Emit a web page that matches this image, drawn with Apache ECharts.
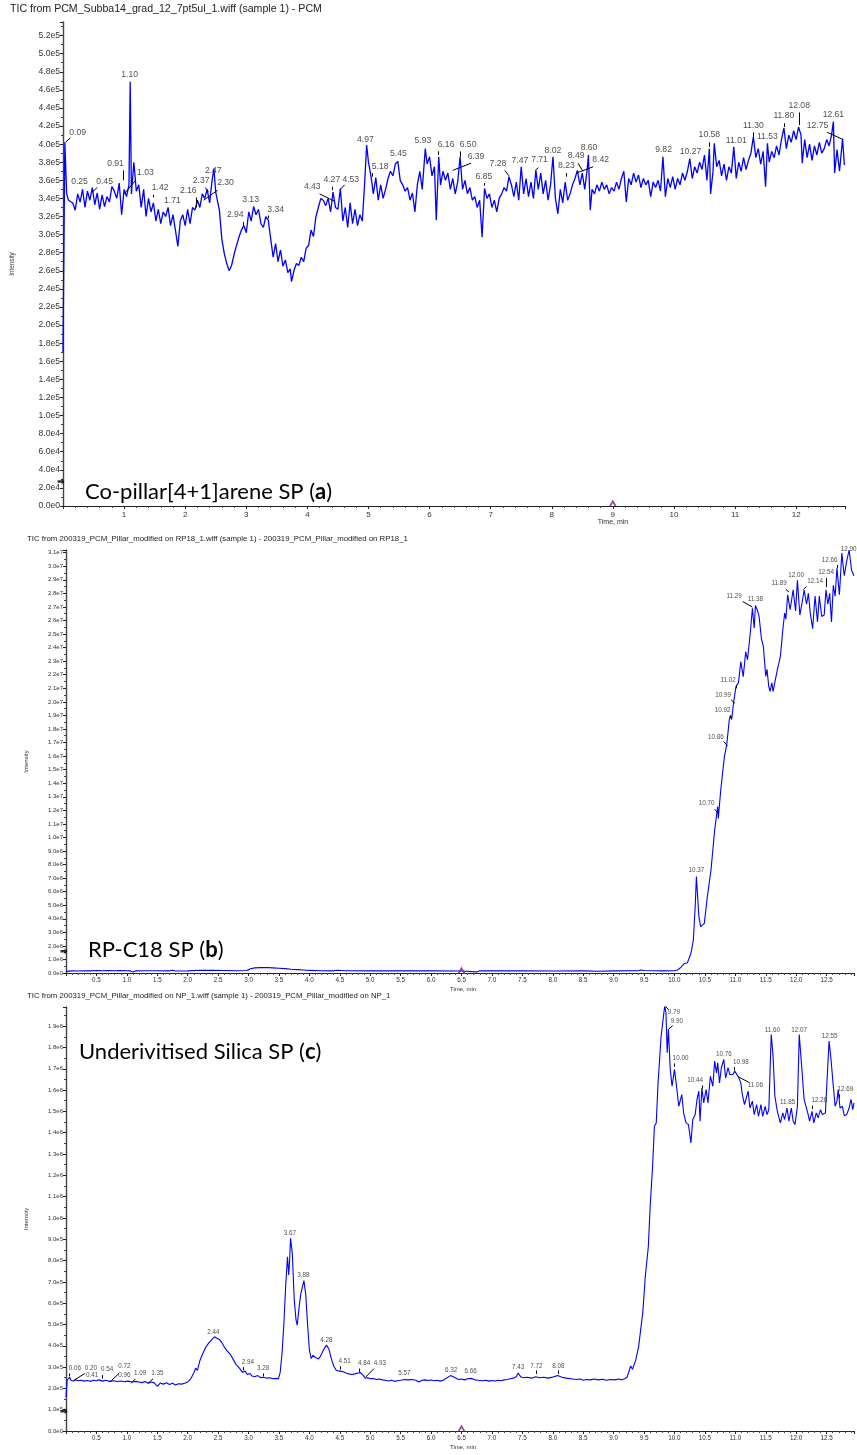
<!DOCTYPE html>
<html>
<head>
<meta charset="utf-8">
<script src="https://cdn.jsdelivr.net/npm/echarts@6/dist/echarts.min.js"></script>
<style>html,body{margin:0;padding:0;background:#fff}#c{width:857px;height:1455px}</style>
</head>
<body>
<div id="c"></div>
<script>
// ---------- Panel (a): Co-pillar[4+1]arene SP, intensity in units of 1e5 ----------
const traceA = [[0.00,1.70],[0.03,4.02],[0.06,3.45],[0.09,3.38],[0.12,3.40],[0.16,3.35],[0.20,3.27],[0.24,3.45],[0.28,3.36],[0.32,3.50],[0.36,3.30],[0.40,3.48],[0.44,3.38],[0.48,3.52],[0.52,3.33],[0.56,3.46],[0.60,3.28],[0.64,3.44],[0.68,3.31],[0.72,3.42],[0.76,3.36],[0.80,3.53],[0.84,3.48],[0.88,3.40],[0.92,3.57],[0.96,3.22],[1.00,3.50],[1.04,3.42],[1.08,3.55],[1.10,4.69],[1.12,3.45],[1.16,3.80],[1.20,3.48],[1.24,3.55],[1.28,3.30],[1.32,3.50],[1.36,3.20],[1.40,3.40],[1.44,3.25],[1.48,3.35],[1.52,3.15],[1.56,3.28],[1.60,3.12],[1.64,3.25],[1.68,3.20],[1.72,3.30],[1.76,3.10],[1.80,3.22],[1.84,3.05],[1.88,2.87],[1.92,3.15],[1.96,3.22],[2.00,3.10],[2.04,3.28],[2.08,3.12],[2.12,3.30],[2.16,3.27],[2.20,3.38],[2.24,3.30],[2.28,3.45],[2.32,3.40],[2.36,3.50],[2.40,3.35],[2.44,3.60],[2.47,3.73],[2.50,3.47],[2.52,3.40],[2.56,3.27],[2.60,2.95],[2.64,2.79],[2.68,2.68],[2.72,2.60],[2.76,2.66],[2.80,2.78],[2.84,2.88],[2.88,2.97],[2.92,3.05],[2.96,3.10],[3.00,3.02],[3.04,3.25],[3.08,3.15],[3.12,3.31],[3.16,3.22],[3.20,3.28],[3.24,3.12],[3.28,3.08],[3.32,3.20],[3.36,3.16],[3.40,2.95],[3.44,2.75],[3.48,2.90],[3.52,2.70],[3.56,2.83],[3.60,2.65],[3.64,2.72],[3.68,2.58],[3.72,2.62],[3.74,2.48],[3.78,2.60],[3.82,2.68],[3.86,2.66],[3.90,2.75],[3.94,2.70],[3.98,2.85],[4.02,2.88],[4.06,3.05],[4.10,2.98],[4.14,3.20],[4.18,3.30],[4.22,3.40],[4.26,3.38],[4.30,3.32],[4.34,3.40],[4.38,3.25],[4.42,3.47],[4.46,3.30],[4.50,3.28],[4.54,3.51],[4.58,3.15],[4.62,3.30],[4.66,3.08],[4.70,3.35],[4.74,3.12],[4.78,3.28],[4.82,3.10],[4.86,3.22],[4.90,3.15],[4.94,3.60],[4.97,3.99],[5.00,3.80],[5.04,3.65],[5.08,3.45],[5.12,3.63],[5.16,3.38],[5.20,3.55],[5.24,3.40],[5.28,3.50],[5.32,3.62],[5.36,3.70],[5.40,3.65],[5.44,3.78],[5.48,3.81],[5.52,3.60],[5.56,3.55],[5.60,3.48],[5.64,3.52],[5.68,3.38],[5.72,3.46],[5.76,3.25],[5.80,3.55],[5.84,3.70],[5.88,3.50],[5.93,3.95],[5.96,3.78],[6.00,3.86],[6.04,3.65],[6.08,3.75],[6.11,3.16],[6.15,3.86],[6.18,3.55],[6.22,3.70],[6.26,3.60],[6.30,3.68],[6.34,3.50],[6.38,3.62],[6.42,3.45],[6.46,3.58],[6.50,3.86],[6.54,3.50],[6.58,3.60],[6.62,3.45],[6.66,3.52],[6.70,3.38],[6.74,3.42],[6.78,3.30],[6.82,3.38],[6.86,2.97],[6.90,3.51],[6.94,3.40],[6.98,3.45],[7.02,3.30],[7.06,3.38],[7.10,3.25],[7.14,3.40],[7.18,3.45],[7.22,3.52],[7.26,3.48],[7.30,3.64],[7.34,3.55],[7.38,3.42],[7.42,3.58],[7.46,3.38],[7.50,3.75],[7.54,3.45],[7.58,3.62],[7.62,3.42],[7.66,3.58],[7.70,3.40],[7.74,3.71],[7.78,3.50],[7.82,3.68],[7.86,3.45],[7.90,3.60],[7.94,3.38],[7.98,3.55],[8.02,3.86],[8.06,3.40],[8.10,3.23],[8.14,3.50],[8.18,3.35],[8.22,3.58],[8.26,3.38],[8.30,3.45],[8.34,3.55],[8.38,3.62],[8.42,3.71],[8.46,3.55],[8.50,3.68],[8.54,3.50],[8.58,3.72],[8.60,3.88],[8.63,3.27],[8.66,3.50],[8.70,3.45],[8.74,3.55],[8.78,3.48],[8.82,3.58],[8.86,3.50],[8.90,3.55],[8.94,3.45],[8.98,3.52],[9.02,3.48],[9.06,3.58],[9.10,3.50],[9.14,3.62],[9.18,3.70],[9.22,3.36],[9.26,3.62],[9.30,3.55],[9.34,3.68],[9.38,3.58],[9.42,3.66],[9.46,3.52],[9.50,3.62],[9.54,3.55],[9.58,3.60],[9.62,3.42],[9.66,3.58],[9.70,3.52],[9.74,3.60],[9.78,3.48],[9.82,3.86],[9.86,3.42],[9.90,3.62],[9.94,3.52],[9.98,3.64],[10.02,3.50],[10.06,3.62],[10.10,3.55],[10.14,3.68],[10.18,3.60],[10.22,3.70],[10.26,3.84],[10.30,3.62],[10.34,3.75],[10.38,3.68],[10.42,3.80],[10.46,3.72],[10.50,3.88],[10.54,3.60],[10.58,3.95],[10.60,3.45],[10.64,3.70],[10.66,4.01],[10.70,3.75],[10.74,3.82],[10.78,3.65],[10.82,3.78],[10.86,3.60],[10.90,3.75],[10.94,3.68],[10.98,3.97],[11.02,3.62],[11.06,3.80],[11.10,3.70],[11.14,3.85],[11.18,3.72],[11.22,3.82],[11.26,3.90],[11.30,4.08],[11.34,3.85],[11.38,3.95],[11.42,3.78],[11.46,3.92],[11.50,3.53],[11.53,4.01],[11.56,3.80],[11.60,3.92],[11.64,3.85],[11.68,3.98],[11.72,3.88],[11.76,4.05],[11.80,4.18],[11.84,3.95],[11.88,4.10],[11.92,4.02],[11.96,4.15],[12.00,4.05],[12.04,4.19],[12.08,4.10],[12.10,3.79],[12.14,4.05],[12.18,3.85],[12.22,4.00],[12.26,3.82],[12.30,3.98],[12.34,3.88],[12.38,4.02],[12.42,3.90],[12.46,3.95],[12.50,4.05],[12.54,3.98],[12.58,4.10],[12.61,4.25],[12.63,3.68],[12.67,3.94],[12.71,3.70],[12.76,4.06],[12.79,3.77]];
const peakLabelsA = [['0.09',0.24,4.08],['0.25',0.27,3.54],['0.45',0.68,3.54],['0.91',0.86,3.74],['1.03',1.35,3.63],['1.10',1.09,4.72],['1.42',1.59,3.47],['1.71',1.79,3.33],['2.16',2.05,3.44],['2.37',2.26,3.55],['2.30',2.66,3.52],['2.47',2.46,3.66],['2.94',2.82,3.17],['3.13',3.07,3.34],['3.34',3.48,3.23],['4.43',4.08,3.48],['4.27',4.40,3.56],['4.53',4.71,3.56],['4.97',4.95,4.00],['5.18',5.19,3.70],['5.45',5.49,3.85],['5.93',5.89,3.99],['6.16',6.27,3.95],['6.50',6.63,3.94],['6.39',6.76,3.81],['6.85',6.89,3.59],['7.28',7.12,3.74],['7.47',7.48,3.77],['7.71',7.80,3.78],['8.02',8.02,3.88],['8.23',8.24,3.71],['8.49',8.40,3.82],['8.60',8.61,3.91],['8.42',8.80,3.78],['9.82',9.83,3.89],['10.27',10.27,3.87],['10.58',10.58,4.05],['11.01',11.02,3.99],['11.30',11.30,4.16],['11.53',11.53,4.03],['11.80',11.80,4.26],['12.08',12.05,4.38],['12.75',12.35,4.16],['12.61',12.61,4.28]];
const leadersA = [[0.04,4.02,0.12,4.07],[0.48,3.47,0.56,3.52],[0.98,3.60,0.98,3.71],[1.00,3.45,1.19,3.60],[1.47,3.41,1.47,3.44],[2.18,3.30,2.18,3.41],[2.33,3.52,2.38,3.47],[2.30,3.38,2.53,3.49],[2.95,3.10,2.95,3.14],[3.36,3.18,3.36,3.21],[4.20,3.45,4.44,3.37],[4.40,3.49,4.40,3.53],[4.54,3.50,4.61,3.55],[5.07,3.64,5.07,3.68],[6.15,3.88,6.15,3.92],[6.51,3.86,6.51,3.92],[6.38,3.71,6.68,3.79],[6.89,3.54,6.89,3.57],[7.23,3.71,7.30,3.65],[7.73,3.71,7.78,3.74],[8.24,3.64,8.24,3.68],[8.43,3.79,8.51,3.70],[8.40,3.68,8.68,3.75],[10.58,3.97,10.58,4.02],[11.30,4.08,11.30,4.13],[11.80,4.19,11.80,4.23],[12.05,4.21,12.05,4.35],[12.51,4.13,12.77,4.05]];

// ---------- Panel (b): RP-C18 SP, intensity in units of 1e6 ----------
const traceB = [[0.00,0.12],[0.10,0.16],[0.20,0.15],[0.30,0.17],[0.40,0.16],[0.50,0.18],[0.60,0.17],[0.70,0.18],[0.80,0.17],[0.90,0.18],[1.00,0.17],[1.05,0.16],[1.10,0.08],[1.15,0.16],[1.30,0.17],[1.50,0.17],[1.70,0.16],[1.75,0.20],[1.80,0.15],[2.00,0.16],[2.20,0.20],[2.40,0.19],[2.60,0.18],[2.80,0.17],[2.98,0.18],[3.02,0.30],[3.10,0.38],[3.20,0.40],[3.30,0.41],[3.40,0.38],[3.50,0.35],[3.60,0.32],[3.70,0.28],[3.80,0.25],[3.90,0.22],[4.00,0.19],[4.20,0.17],[4.40,0.16],[4.45,0.20],[4.60,0.17],[5.00,0.16],[5.50,0.17],[6.00,0.16],[6.50,0.15],[6.75,0.08],[6.80,0.16],[7.00,0.16],[7.50,0.17],[8.00,0.15],[8.50,0.16],[8.75,0.13],[9.00,0.16],[9.40,0.17],[9.45,0.22],[9.50,0.18],[9.80,0.16],[10.00,0.17],[10.05,0.22],[10.10,0.40],[10.16,0.70],[10.21,0.74],[10.27,1.45],[10.31,2.43],[10.34,4.90],[10.36,7.11],[10.40,4.20],[10.43,3.42],[10.46,3.50],[10.49,3.66],[10.54,5.63],[10.60,7.60],[10.66,10.55],[10.71,12.27],[10.72,11.40],[10.76,13.50],[10.82,15.96],[10.84,16.40],[10.86,16.90],[10.90,18.67],[10.92,19.00],[10.94,18.70],[10.97,19.90],[11.01,21.13],[11.05,21.40],[11.09,22.97],[11.13,21.86],[11.17,23.70],[11.20,23.10],[11.25,25.30],[11.28,26.90],[11.31,25.45],[11.33,27.10],[11.36,26.80],[11.39,26.30],[11.43,24.60],[11.46,24.10],[11.50,21.87],[11.52,22.40],[11.55,21.10],[11.57,20.77],[11.60,21.40],[11.62,20.77],[11.69,22.36],[11.74,23.35],[11.78,25.30],[11.81,26.55],[11.83,26.10],[11.86,27.90],[11.90,26.80],[11.95,28.27],[11.99,26.70],[12.02,28.96],[12.06,26.40],[12.10,27.40],[12.13,28.27],[12.17,27.20],[12.20,28.00],[12.23,26.60],[12.27,25.40],[12.31,27.80],[12.35,25.90],[12.38,27.80],[12.42,26.30],[12.46,26.40],[12.49,28.27],[12.52,27.20],[12.55,28.00],[12.58,25.90],[12.61,28.60],[12.64,27.80],[12.67,29.87],[12.71,27.90],[12.75,30.97],[12.79,29.30],[12.83,30.40],[12.87,31.20],[12.91,29.70],[12.95,29.30]];
const peakLabelsB = [['10.37',10.36,7.36],['10.70',10.53,12.27],['10.86',10.68,17.2],['10.92',10.79,19.17],['10.99',10.80,20.27],['11.02',10.88,21.38],['11.29',10.98,27.53],['11.38',11.33,27.33],['11.89',11.72,28.51],['12.00',12.00,29.13],['12.14',12.31,28.71],['12.54',12.49,29.33],['12.66',12.55,30.23],['12.90',12.86,31.0]];
const leadersB = [[10.66,12.08,10.71,11.83],[10.81,17.07,10.87,16.75],[10.92,19.0,10.92,18.8],[10.93,20.15,10.99,19.9],[11.01,21.25,11.01,21.0],[11.12,27.4,11.28,26.99],[11.83,28.3,11.88,28.1],[12.12,28.3,12.17,28.5],[12.49,28.46,12.49,29.13],[12.67,29.87,12.67,30.1]];

// ---------- Panel (c): Underivitised Silica SP, intensity in units of 1e5 ----------
const traceC = [[0.00,1.60],[0.02,2.40],[0.04,2.42],[0.06,2.52],[0.08,2.38],[0.12,2.35],[0.16,2.40],[0.20,2.36],[0.25,2.38],[0.30,2.34],[0.35,2.37],[0.41,2.33],[0.45,2.38],[0.50,2.36],[0.54,2.40],[0.60,2.34],[0.65,2.38],[0.72,2.33],[0.78,2.36],[0.84,2.32],[0.90,2.35],[0.96,2.31],[1.02,2.34],[1.09,2.30],[1.15,2.33],[1.20,2.30],[1.25,2.27],[1.30,2.32],[1.35,2.24],[1.40,2.30],[1.45,2.26],[1.50,2.10],[1.55,2.25],[1.60,2.20],[1.65,2.26],[1.70,2.18],[1.75,2.24],[1.80,2.16],[1.85,2.22],[1.90,2.20],[1.95,2.24],[2.00,2.30],[2.05,2.45],[2.10,2.72],[2.13,2.95],[2.16,2.85],[2.20,3.30],[2.25,3.65],[2.30,3.95],[2.35,4.15],[2.40,4.30],[2.44,4.42],[2.48,4.35],[2.52,4.30],[2.56,4.15],[2.60,3.95],[2.65,3.75],[2.70,3.60],[2.75,3.35],[2.80,3.10],[2.85,2.95],[2.90,2.75],[2.94,2.82],[2.98,2.65],[3.02,2.70],[3.06,2.58],[3.10,2.55],[3.15,2.60],[3.20,2.50],[3.25,2.52],[3.30,2.48],[3.35,2.50],[3.40,2.45],[3.45,2.47],[3.49,2.45],[3.52,2.75],[3.55,3.64],[3.58,5.00],[3.61,6.80],[3.64,8.18],[3.66,7.32],[3.675,8.00],[3.69,9.05],[3.72,8.30],[3.75,6.20],[3.78,5.21],[3.80,4.97],[3.83,5.80],[3.86,6.46],[3.88,6.55],[3.91,7.06],[3.94,6.40],[3.97,5.00],[4.00,3.80],[4.03,3.40],[4.06,3.55],[4.10,3.45],[4.15,3.38],[4.19,3.55],[4.23,3.80],[4.28,4.03],[4.32,3.85],[4.36,3.40],[4.40,3.05],[4.44,2.85],[4.48,2.82],[4.52,2.80],[4.56,2.78],[4.60,2.72],[4.65,2.68],[4.70,2.65],[4.75,2.68],[4.80,2.72],[4.84,2.74],[4.88,2.62],[4.92,2.48],[4.96,2.50],[5.00,2.45],[5.05,2.46],[5.10,2.42],[5.15,2.44],[5.20,2.40],[5.25,2.38],[5.30,2.35],[5.35,2.38],[5.40,2.33],[5.45,2.36],[5.50,2.38],[5.57,2.42],[5.62,2.40],[5.68,2.42],[5.75,2.38],[5.80,2.30],[5.85,2.38],[5.90,2.40],[5.95,2.37],[6.00,2.39],[6.05,2.36],[6.10,2.38],[6.15,2.34],[6.20,2.38],[6.25,2.48],[6.32,2.60],[6.38,2.52],[6.45,2.42],[6.50,2.44],[6.55,2.40],[6.60,2.45],[6.66,2.47],[6.72,2.40],[6.78,2.38],[6.85,2.36],[6.90,2.38],[6.95,2.34],[7.00,2.37],[7.05,2.35],[7.10,2.38],[7.15,2.36],[7.20,2.40],[7.25,2.42],[7.30,2.45],[7.35,2.48],[7.40,2.55],[7.43,2.72],[7.47,2.55],[7.52,2.50],[7.58,2.52],[7.65,2.48],[7.72,2.55],[7.78,2.50],[7.85,2.52],[7.92,2.48],[8.00,2.53],[8.08,2.60],[8.15,2.52],[8.22,2.48],[8.30,2.45],[8.38,2.42],[8.45,2.44],[8.50,2.38],[8.56,2.42],[8.62,2.40],[8.68,2.44],[8.75,2.40],[8.82,2.43],[8.88,2.38],[8.95,2.42],[9.02,2.40],[9.08,2.44],[9.14,2.40],[9.18,2.45],[9.22,2.52],[9.25,2.60],[9.28,3.05],[9.31,2.90],[9.36,3.30],[9.41,3.95],[9.44,4.65],[9.48,5.60],[9.52,7.25],[9.57,8.66],[9.60,10.54],[9.64,12.42],[9.67,14.30],[9.70,14.46],[9.73,16.34],[9.75,16.42],[9.78,18.53],[9.84,19.97],[9.86,19.63],[9.88,17.75],[9.90,18.85],[9.93,16.97],[9.96,16.18],[10.00,16.97],[10.04,16.03],[10.07,15.24],[10.12,15.79],[10.15,14.93],[10.19,14.46],[10.23,14.38],[10.27,13.52],[10.30,14.62],[10.34,14.85],[10.37,15.56],[10.40,15.95],[10.42,14.54],[10.45,16.10],[10.48,15.40],[10.52,16.03],[10.55,15.40],[10.59,16.65],[10.63,16.18],[10.66,17.36],[10.69,16.81],[10.71,17.28],[10.74,16.34],[10.77,17.05],[10.81,17.44],[10.84,16.57],[10.88,17.05],[10.91,16.73],[10.93,16.81],[10.96,16.73],[10.99,16.89],[11.05,16.62],[11.09,16.34],[11.11,15.87],[11.15,15.32],[11.18,15.63],[11.21,15.95],[11.24,15.16],[11.28,15.48],[11.31,14.85],[11.35,15.32],[11.38,14.77],[11.42,15.32],[11.45,14.77],[11.49,15.24],[11.52,14.85],[11.55,15.08],[11.59,18.61],[11.62,17.59],[11.65,15.71],[11.69,15.00],[11.74,14.46],[11.78,14.93],[11.81,14.62],[11.85,15.16],[11.88,14.54],[11.92,15.16],[11.95,14.54],[11.98,14.38],[12.02,15.24],[12.05,18.61],[12.09,17.12],[12.13,15.56],[12.16,15.63],[12.19,14.93],[12.22,14.54],[12.26,15.00],[12.29,14.46],[12.33,14.93],[12.36,14.70],[12.40,15.08],[12.43,14.85],[12.48,14.93],[12.51,14.85],[12.54,18.30],[12.57,17.52],[12.61,16.18],[12.64,15.24],[12.67,15.48],[12.69,16.03],[12.72,15.16],[12.76,15.24],[12.79,14.80],[12.83,14.85],[12.87,15.16],[12.90,15.56],[12.93,15.08],[12.95,15.40]];
const peakLabelsC = [['0.06',0.145,2.82],['0.20',0.41,2.82],['0.41',0.43,2.46],['0.54',0.675,2.74],['0.72',0.96,2.88],['0.96',0.96,2.46],['1.09',1.22,2.59],['1.35',1.50,2.59],['2.44',2.42,4.50],['2.94',2.99,3.09],['3.28',3.24,2.81],['3.67',3.68,9.15],['3.88',3.90,7.18],['4.28',4.28,4.14],['4.51',4.58,3.13],['4.84',4.90,3.06],['4.93',5.16,3.06],['5.57',5.56,2.59],['6.32',6.33,2.70],['6.66',6.65,2.66],['7.43',7.43,2.84],['7.72',7.73,2.92],['8.08',8.09,2.92],['9.79',9.99,19.5],['9.90',10.04,19.08],['10.00',10.10,17.36],['10.44',10.34,16.31],['10.76',10.81,17.56],['10.98',11.09,17.16],['11.06',11.33,16.1],['11.60',11.61,18.69],['11.85',11.86,15.27],['12.07',12.05,18.69],['12.26',12.38,15.36],['12.55',12.55,18.38],['12.69',12.81,15.89]];
const leadersC = [[0.06,2.56,0.06,2.70],[0.13,2.38,0.31,2.70],[0.59,2.46,0.59,2.62],[0.72,2.30,0.87,2.70],[1.07,2.24,1.14,2.45],[1.35,2.24,1.43,2.45],[2.92,2.85,2.92,3.0],[3.24,2.56,3.24,2.70],[4.50,2.88,4.50,3.04],[4.82,2.77,4.82,2.93],[4.93,2.54,5.06,2.93],[7.73,2.68,7.73,2.84],[8.09,2.68,8.09,2.84],[9.84,19.97,9.90,19.78],[9.90,18.85,9.97,19.03],[10.00,17.09,10.00,17.25],[10.46,16.07,10.46,16.22],[10.99,16.92,10.99,17.08],[11.05,16.62,11.22,16.37],[12.26,15.11,12.26,15.27],[12.70,15.61,12.70,15.79]];

// Cursor markers shown by the acquisition software: [panel, time, intensity]
const cursorMarkers = [[0,9.0,0],[1,6.5,0],[2,6.5,0]];
const axisMarkers = [[0,0,0.27],[1,0,1.6],[2,0,0.93]];

const titles = [
  'TIC from PCM_Subba14_grad_12_7pt5ul_1.wiff (sample 1) - PCM',
  'TIC from 200319_PCM_Pillar_modified on RP18_1.wiff (sample 1) - 200319_PCM_Pillar_modified on RP18_1',
  'TIC from 200319_PCM_Pillar_modified on NP_1.wiff (sample 1) - 200319_PCM_Pillar_modified on NP_1'
];
const panelNames = [['Co-pillar[4+1]arene SP (','a',')'],['RP-C18 SP (','b',')'],['Underivitised Silica SP (','c',')']];

const FONT = '"Liberation Sans", Arial, sans-serif';
const near = (v, step) => Math.abs(v - Math.round(v / step) * step) < 1e-6;

function fmtA(v){ if(!near(v,0.2)) return ''; if(Math.abs(v)<1e-9) return '0.0e0'; if(v<0.999) return (v*10).toFixed(1)+'e4'; return v.toFixed(1)+'e5'; }
function fmtB(v){ if(!near(v,1)) return ''; if(Math.abs(v)<1e-9) return '0.0e0'; if(v<9.999) return v.toFixed(1)+'e6'; return (v/10).toFixed(1)+'e7'; }
function fmtC(v){ if(!near(v,1)) return ''; if(Math.abs(v)<1e-9) return '0.0e0'; if(v<9.999) return v.toFixed(1)+'e5'; return (v/10).toFixed(1)+'e6'; }

const chart = echarts.init(document.getElementById('c'), null, {renderer:'canvas'});

const grids = [
  {left:63, top:22, width:782, height:484},
  {left:66, top:550, width:791, height:423},
  {left:66, top:1007, width:791, height:424}
];

function xAxisCfg(idx, max, interval, fs, fmt, margin){
  return {
    type:'value', gridIndex:idx, min:0, max:max, interval:interval,
    axisLine:{show:true, onZero:false, lineStyle:{color:'#222', width:1}},
    axisTick:{show:true, length:3, lineStyle:{color:'#222'}},
    minorTick:{show:true, splitNumber:5, length:2, lineStyle:{color:'#444'}},
    splitLine:{show:false},
    axisLabel:{fontSize:fs, fontFamily:FONT, color:'#333', margin:margin,
      formatter:fmt, showMinLabel:true, showMaxLabel:true}
  };
}
function yAxisCfg(idx, max, interval, fs, fmt, gap, nameFs){
  return {
    type:'value', gridIndex:idx, min:0, max:max, interval:interval,
    name:'Intensity', nameLocation:'middle', nameGap:gap, nameRotate:90,
    nameTextStyle:{fontSize:nameFs, fontFamily:FONT, color:'#333'},
    axisLine:{show:true, lineStyle:{color:'#444', width:1.4}},
    axisTick:{show:true, length:3, lineStyle:{color:'#222'}},
    minorTick:{show:true, splitNumber:2, length:2, lineStyle:{color:'#444'}},
    splitLine:{show:false},
    axisLabel:{fontSize:fs, fontFamily:FONT, color:'#333', margin:3, formatter:fmt}
  };
}

const xAxes = [
  xAxisCfg(0, 12.8, 1, 8, v => (near(v,1) && v>0.5) ? String(Math.round(v)) : '', 5),
  xAxisCfg(1, 12.95, 0.5, 6.3, v => (near(v,0.5) && v>0.25) ? v.toFixed(1) : '', 4),
  xAxisCfg(2, 12.95, 0.5, 6.3, v => (near(v,0.5) && v>0.25) ? v.toFixed(1) : '', 4)
];
const yAxes = [
  yAxisCfg(0, 5.35, 0.2, 8.6, fmtA, 48, 6.3),
  yAxisCfg(1, 31.2, 1, 6, fmtB, 37, 6),
  yAxisCfg(2, 19.9, 1, 6, fmtC, 37, 6)
];

const traces = [traceA, traceB, traceC];
const peakLabels = [peakLabelsA, peakLabelsB, peakLabelsC];
const leaders = [leadersA, leadersB, leadersC];
const lineWidths = [1.3, 1.1, 1.1];
const labelSizes = [8.6, 6.3, 6.3];

const series = [];
for (let i=0;i<3;i++){
  series.push({
    type:'line', xAxisIndex:i, yAxisIndex:i, data:traces[i], showSymbol:false, symbol:'none',
    lineStyle:{color:'#0000ff', width:lineWidths[i]}, silent:true, animation:false, clip:true
  });
  series.push({
    type:'lines', coordinateSystem:'cartesian2d', xAxisIndex:i, yAxisIndex:i, polyline:false,
    data: leaders[i].map(s => ({coords:[[s[0],s[1]],[s[2],s[3]]]})),
    lineStyle:{color:'#000', width:1, opacity:1}, silent:true, animation:false, z:4
  });
  series.push({
    type:'scatter', xAxisIndex:i, yAxisIndex:i, symbolSize:0, silent:true, animation:false, z:5,
    data: peakLabels[i].map(p => ({name:p[0], value:[p[1], p[2]]})),
    label:{show:true, position:'top', distance:0, formatter:'{b}', fontSize:labelSizes[i],
      fontFamily:FONT, color:'#222'},
    clip:false
  });
}
cursorMarkers.forEach(m => {
  series.push({
    type:'scatter', xAxisIndex:m[0], yAxisIndex:m[0], silent:true, animation:false, clip:false, z:6,
    symbol:'path://M0,10 L5,0 L10,10 L7.5,10 L5,5 L2.5,10 Z', symbolSize:[8,7], symbolOffset:[0,-3],
    itemStyle:{color:'#7a1f7a'}, data:[[m[1], m[2]]]
  });
});
axisMarkers.forEach(m => {
  series.push({
    type:'scatter', xAxisIndex:m[0], yAxisIndex:m[0], silent:true, animation:false, clip:false, z:6,
    symbol:'path://M0,3 L6,3 L6,0 L10,5 L6,10 L6,7 L0,7 Z', symbolSize:[7,6], symbolOffset:[-2,0],
    itemStyle:{color:'#000'}, data:[[m[1], m[2]]]
  });
});

const graphics = [
  {type:'text', left:10, top:4, style:{text:titles[0], font:'10.6px '+FONT, fill:'#222'}},
  {type:'text', left:27, top:535, style:{text:titles[1], font:'7.8px '+FONT, fill:'#222'}},
  {type:'text', left:27, top:992, style:{text:titles[2], font:'7.8px '+FONT, fill:'#222'}},
  {type:'text', x:613, y:522, style:{text:'Time, min', font:'7px '+FONT, fill:'#333', align:'center', verticalAlign:'middle'}},
  {type:'text', x:463, y:989, style:{text:'Time, min', font:'6px '+FONT, fill:'#333', align:'center', verticalAlign:'middle'}},
  {type:'text', x:463, y:1447, style:{text:'Time, min', font:'6px '+FONT, fill:'#333', align:'center', verticalAlign:'middle'}}
];
const namePos = [[85,492],[88,950],[79,1052]];
panelNames.forEach((n, i) => {
  graphics.push({type:'text', x:namePos[i][0], y:namePos[i][1], z:10,
    style:{text:'{r|'+n[0]+'}{b|'+n[1]+'}{r|'+n[2]+'}', verticalAlign:'middle', align:'left',
      rich:{r:{fontSize:22, fontFamily:'Lato, "Open Sans", sans-serif', fill:'#000'},
            b:{fontSize:22, fontFamily:'Lato, "Open Sans", sans-serif', fontWeight:'bold', fill:'#000'}}}});
});

chart.setOption({
  animation:false,
  backgroundColor:'#fff',
  grid:grids,
  xAxis:xAxes,
  yAxis:yAxes,
  series:series,
  graphic:graphics
});
</script>
</body>
</html>
